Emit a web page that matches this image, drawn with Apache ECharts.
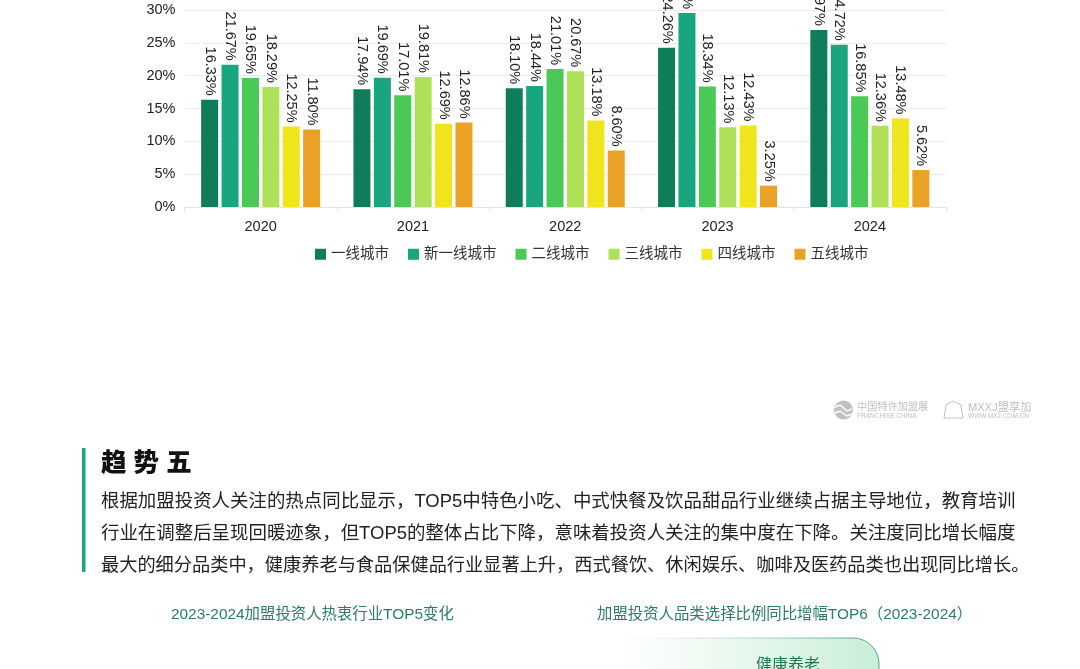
<!DOCTYPE html>
<html lang="zh-CN">
<head>
    <meta charset="UTF-8">
    <title>趋势五</title>
    <script src="https://cdn.jsdelivr.net/npm/echarts@6/dist/echarts.min.js"></script>
    <style>
        html, body { margin: 0; padding: 0; background: #fff; }
        #main { width: 1080px; height: 669px; }
    </style>
</head>
<body>
    <div id="main"></div>
    <script>
        var years = ['2020', '2021', '2022', '2023', '2024'];
        var tier1 = [16.33, 17.94, 18.10, 24.26, 26.97];
        var newTier1 = [21.67, 19.69, 18.44, 29.53, 24.72];
        var tier2 = [19.65, 17.01, 21.01, 18.34, 16.85];
        var tier3 = [18.29, 19.81, 20.67, 12.13, 12.36];
        var tier4 = [12.25, 12.69, 13.18, 12.43, 13.48];
        var tier5 = [11.80, 12.86, 8.60, 3.25, 5.62];
        var seriesNames = ['一线城市', '新一线城市', '二线城市', '三线城市', '四线城市', '五线城市'];
        var seriesColors = ['#0f7c5a', '#19a67f', '#4bc957', '#afe158', '#f0e41c', '#e9a225'];
        var seriesValues = [tier1, newTier1, tier2, tier3, tier4, tier5];

        var heading = '趋 势 五';
        var bodyLines = [
            '根据加盟投资人关注的热点同比显示，TOP5中特色小吃、中式快餐及饮品甜品行业继续占据主导地位，教育培训',
            '行业在调整后呈现回暖迹象，但TOP5的整体占比下降，意味着投资人关注的集中度在下降。关注度同比增长幅度',
            '最大的细分品类中，健康养老与食品保健品行业显著上升，西式餐饮、休闲娱乐、咖啡及医药品类也出现同比增长。'
        ];
        var subTitleLeft = '2023-2024加盟投资人热衷行业TOP5变化';
        var subTitleRight = '加盟投资人品类选择比例同比增幅TOP6（2023-2024）';
        var cardLabel = '健康养老';

        var latinFont = '"Liberation Sans", Arial, sans-serif';
        // latin runs come from Liberation, CJK falls through to Noto
        var cjkFont = '"Liberation Sans", "Noto Sans CJK SC", sans-serif';
        var logoGrey = '#c0c0c0';
        // the last line has tighter punctuation in the original, so a slightly smaller size
        var bodySizes = [18.45, 18.45, 18.22];

        function text(x, y, str, size, color, extra) {
            var style = { x: x, y: y, text: str, fontSize: size, fill: color, fontFamily: cjkFont, textVerticalAlign: 'middle' };
            for (var k in extra) style[k] = extra[k];
            return { type: 'text', silent: true, style: style };
        }

        var graphics = [
            // accent bar next to the heading
            { type: 'rect', shape: { x: 82, y: 448, width: 3.5, height: 124 }, style: { fill: '#1ba784' } },
            text(101, 464, heading, 25.5, '#111', { fontWeight: 900 }),
            text(171, 615, subTitleLeft, 15.4, '#2a7d62'),
            text(597, 615, subTitleRight, 15.4, '#2a7d62'),
            // card cut off by the bottom of the page
            {
                type: 'rect',
                shape: { x: 620, y: 638, width: 259, height: 80, r: [0, 26, 0, 0] },
                style: {
                    fill: new echarts.graphic.LinearGradient(0, 0, 1, 0, [
                        { offset: 0, color: 'rgba(200,238,213,0)' },
                        { offset: 0.6, color: 'rgba(200,238,213,0.55)' },
                        { offset: 1, color: 'rgba(200,238,213,1)' }
                    ]),
                    stroke: new echarts.graphic.LinearGradient(0, 0, 1, 0, [
                        { offset: 0, color: 'rgba(60,160,110,0)' },
                        { offset: 0.4, color: 'rgba(60,160,110,0.25)' },
                        { offset: 1, color: 'rgba(60,160,110,0.9)' }
                    ]),
                    lineWidth: 1
                }
            },
            text(756, 666, cardLabel, 16, '#1d7a50'),
            // watermark logos
            { type: 'circle', shape: { cx: 843.5, cy: 410, r: 9.5 }, style: { fill: logoGrey } },
            { type: 'polyline', shape: { points: [[835, 407], [840, 405], [847, 411], [852, 409]] }, style: { stroke: '#fff', lineWidth: 1.5, fill: null } },
            { type: 'polyline', shape: { points: [[835, 413], [840, 411], [847, 416], [852, 414]] }, style: { stroke: '#fff', lineWidth: 1.5, fill: null } },
            text(857, 407, '中国特许加盟展', 10.2, logoGrey),
            text(857, 416, 'FRANCHISE CHINA', 6.5, logoGrey),
            { type: 'polygon', shape: { points: [[953, 401], [961, 405], [963, 418], [944, 418], [946, 405]] }, style: { fill: null, stroke: logoGrey, lineWidth: 1 } },
            text(968, 408, 'MXXJ盟享加', 11.2, logoGrey),
            text(968, 416, 'WWW.MXJ.COM.CN', 6.5, logoGrey)
        ];
        bodyLines.forEach(function (line, i) {
            graphics.push(text(101, 502 + i * 32, line, bodySizes[i], '#222'));
        });

        var chart = echarts.init(document.getElementById('main'));
        var option = {
            backgroundColor: '#fff',
            animation: false,
            textStyle: { fontFamily: latinFont },
            grid: { left: 184.5, right: 134, top: 10, height: 197 },
            legend: {
                left: 310,
                top: 242,
                icon: 'rect',
                itemWidth: 11,
                itemHeight: 11,
                itemGap: 19,
                selectedMode: false,
                textStyle: { fontFamily: cjkFont, fontSize: 14.5, color: '#333' },
                data: seriesNames
            },
            xAxis: {
                type: 'category',
                data: years,
                axisLine: { lineStyle: { color: '#e4e4e4' } },
                axisTick: { show: true, length: 5, lineStyle: { color: '#e4e4e4' } },
                axisLabel: { color: '#222', fontSize: 14.5, margin: 12 }
            },
            yAxis: {
                type: 'value',
                min: 0,
                max: 30,
                interval: 5,
                axisLine: { show: false },
                axisTick: { show: false },
                splitLine: { lineStyle: { color: '#ececec' } },
                axisLabel: { formatter: '{value}%', color: '#222', fontSize: 14.5, margin: 9, padding: [3, 0, 0, 0] }
            },
            graphic: { elements: graphics },
            series: seriesNames.map(function (name, i) {
                return {
                    name: name,
                    type: 'bar',
                    data: seriesValues[i],
                    barWidth: 17,
                    barGap: '20%',
                    itemStyle: { color: seriesColors[i] },
                    label: {
                        show: true,
                        position: 'top',
                        rotate: -90,
                        align: 'right',
                        verticalAlign: 'middle',
                        distance: 4,
                        color: '#222',
                        fontSize: 14.5,
                        formatter: function (p) { return p.value.toFixed(2) + '%'; }
                    }
                };
            })
        };
        chart.setOption(option);
    </script>
</body>
</html>
